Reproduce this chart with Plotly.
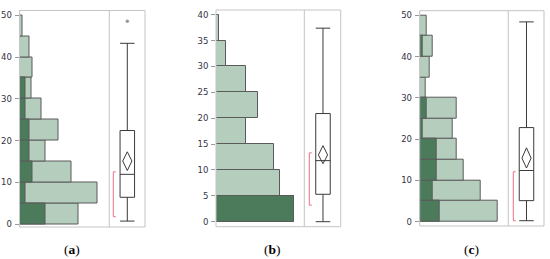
import plotly.graph_objects as go

W, H = 550, 259

# ---------------- data ----------------
bin_centers_a = [2.5, 7.5, 12.5, 17.5, 22.5, 27.5, 32.5, 37.5, 42.5, 47.5]
total_a = [58.7, 78.3, 52.3, 25.7, 39.0, 22.3, 12.3, 12.7, 9.7, 2.7]
dark_a = [25.7, 6.0, 13.3, 10.3, 10.3, 6.0, 6.0, None, None, None]

bin_centers_b = [2.5, 7.5, 12.5, 17.5, 22.5, 27.5, 32.5, 37.5]
total_b = [78.0, 64.3, 58.3, 29.7, 42.3, 29.7, 10.3, 3.0]
dark_b = [78.0, None, None, None, None, None, None, None]

bin_centers_c = [2.5, 7.5, 12.5, 17.5, 22.5, 27.5, 32.5, 37.5, 42.5, 47.5]
total_c = [77.7, 60.7, 44.3, 37.3, 33.3, 37.3, 6.3, 10.0, 13.0, 6.7]
dark_c = [20.3, 13.3, 17.0, 17.0, 3.0, 7.0, None, None, 3.0, None]

# box summaries: lower whisker, q1, median, q3, upper whisker
box_a = dict(low=0.7, q1=6.4, med=11.9, q3=22.4, high=43.3)
box_b = dict(low=0.0, q1=5.3, med=11.8, q3=20.9, high=37.4)
box_c = dict(low=0.24, q1=5.1, med=12.4, q3=22.8, high=48.4)
mean_a, ci_a = 15.1, (12.8, 17.3)
mean_b, ci_b = 12.9, (11.2, 14.7)
mean_c, ci_c = 15.4, (13.0, 17.9)
outliers_a = [48.6]
outliers_b = []
outliers_c = []
shortest_a = (1.75, 12.5)
shortest_b = (3.2, 13.3)
shortest_c = (0.24, 12.1)

tickvals_a = [0, 10, 20, 30, 40, 50]
tickvals_b = [0, 5, 10, 15, 20, 25, 30, 35, 40]
tickvals_c = [0, 10, 20, 30, 40, 50]
panel_labels = ["a", "b", "c"]

# ---------------- styling / layout ----------------
LIGHT = "#b4cdbc"
DARK = "#4b7b5a"
EDGE = "#5a5a5a"
FRAME = "#c4c4c4"
RED = "#ee7088"

panels = [
    dict(centers=bin_centers_a, total=total_a, dark=dark_a, box=box_a, mean=mean_a, ci=ci_a,
         out=outliers_a, short=shortest_a, ticks=tickvals_a,
         hx=(19.5, 109.3), bx=(109.3, 145.0), ypx=(10.5, 227.0), zero=224.0, scale=4.173,
         center=18.0, bracket=4.0),
    dict(centers=bin_centers_b, total=total_b, dark=dark_b, box=box_b, mean=mean_b, ci=ci_b,
         out=outliers_b, short=shortest_b, ticks=tickvals_b,
         hx=(216.0, 304.3), bx=(304.3, 340.7), ypx=(10.0, 226.7), zero=221.7, scale=5.175,
         center=18.7, bracket=5.0),
    dict(centers=bin_centers_c, total=total_c, dark=dark_c, box=box_c, mean=mean_c, ci=ci_c,
         out=outliers_c, short=shortest_c, ticks=tickvals_c,
         hx=(419.7, 508.3), bx=(508.3, 544.0), ypx=(10.7, 226.0), zero=221.7, scale=4.128,
         center=18.2, bracket=5.0),
]

fig = go.Figure()
layout = dict(
    width=W, height=H, margin=dict(l=0, r=0, t=0, b=0, pad=0, autoexpand=False),
    paper_bgcolor="white", plot_bgcolor="white", showlegend=False,
    barmode="overlay", bargap=0,
)
shapes = []
annotations = []

for i, p in enumerate(panels):
    hxn = 2 * i + 1
    bxn = 2 * i + 2
    yn = i + 1
    xh = "x" if hxn == 1 else f"x{hxn}"
    xb = f"x{bxn}"
    yy = "y" if yn == 1 else f"y{yn}"

    ytop_px, ybot_px = p["ypx"]
    yr = [(p["zero"] - ybot_px) / p["scale"], (p["zero"] - ytop_px) / p["scale"]]
    hw = p["hx"][1] - p["hx"][0]
    bw = p["bx"][1] - p["bx"][0]

    fig.add_trace(go.Bar(y=p["centers"], x=p["total"], orientation="h", width=5,
                         marker=dict(color=LIGHT, line=dict(color=EDGE, width=1)),
                         xaxis=xh, yaxis=yy, hoverinfo="skip"))
    fig.add_trace(go.Bar(y=p["centers"], x=p["dark"], orientation="h", width=5,
                         marker=dict(color=DARK, line=dict(color=EDGE, width=1)),
                         xaxis=xh, yaxis=yy, hoverinfo="skip"))

    b = p["box"]
    fig.add_trace(go.Box(x0=p["center"], q1=[b["q1"]], median=[b["med"]], q3=[b["q3"]],
                         lowerfence=[b["low"]], upperfence=[b["high"]],
                         width=14.5, whiskerwidth=1, fillcolor="rgba(0,0,0,0)",
                         line=dict(color="#3a3a3a", width=1), boxpoints=False,
                         xaxis=xb, yaxis=yy, hoverinfo="skip"))
    # mean diamond
    c = p["center"]
    lo, hi = p["ci"]
    m = p["mean"]
    fig.add_trace(go.Scatter(x=[c, c + 4.6, c, c - 4.6, c], y=[hi, m, lo, m, hi], mode="lines",
                             line=dict(color="#3a3a3a", width=1), xaxis=xb, yaxis=yy,
                             hoverinfo="skip"))
    if p["out"]:
        fig.add_trace(go.Scatter(x=[c] * len(p["out"]), y=p["out"], mode="markers",
                                 marker=dict(color="#9a9a9a", size=3.5), xaxis=xb, yaxis=yy,
                                 hoverinfo="skip"))
    s_lo, s_hi = p["short"]
    bx_ = p["bracket"]
    fig.add_trace(go.Scatter(x=[bx_ + 2.5, bx_, bx_, bx_ + 2.5], y=[s_lo, s_lo, s_hi, s_hi],
                             mode="lines", line=dict(color=RED, width=1), xaxis=xb, yaxis=yy,
                             hoverinfo="skip"))

    layout["xaxis" if hxn == 1 else f"xaxis{hxn}"] = dict(
        domain=[p["hx"][0] / W, p["hx"][1] / W], range=[0, hw], anchor=yy,
        showgrid=False, zeroline=False, showticklabels=False, ticks="", fixedrange=True,
        automargin=False)
    layout[f"xaxis{bxn}"] = dict(
        domain=[p["bx"][0] / W, p["bx"][1] / W], range=[0, bw], anchor=yy,
        showgrid=False, zeroline=False, showticklabels=False, ticks="", fixedrange=True,
        automargin=False)
    layout["yaxis" if yn == 1 else f"yaxis{yn}"] = dict(
        domain=[1 - ybot_px / H, 1 - ytop_px / H], range=yr, anchor=xh,
        showgrid=False, zeroline=False, tickvals=p["ticks"], ticks="outside", ticklen=4,
        tickcolor="#9a9a9a", tickwidth=1, ticklabelstandoff=1, automargin=False,
        tickfont=dict(family="DejaVu Sans", size=8.5, color="#333344"), fixedrange=True)

    # frame and divider
    shapes.append(dict(type="rect", xref="paper", yref="paper",
                       x0=p["hx"][0] / W, x1=p["bx"][1] / W,
                       y0=1 - ybot_px / H, y1=1 - ytop_px / H,
                       line=dict(color=FRAME, width=1), layer="above"))
    shapes.append(dict(type="line", xref="paper", yref="paper",
                       x0=p["bx"][0] / W, x1=p["bx"][0] / W,
                       y0=1 - ybot_px / H, y1=1 - ytop_px / H,
                       line=dict(color=FRAME, width=1), layer="above"))

label_x = [71.5, 272, 471.5]
for lx, lab in zip(label_x, panel_labels):
    annotations.append(dict(x=lx / W, y=1 - 249 / H, xref="paper", yref="paper",
                            xanchor="center", yanchor="middle",
                            text=f"(<b>{lab}</b>)", showarrow=False,
                            font=dict(family="Liberation Serif", size=13.5, color="black")))

layout["shapes"] = shapes
layout["annotations"] = annotations
fig.update_layout(**layout)
fig.write_html("out.html", config={"displayModeBar": False},
               post_script="document.body.style.margin='0';document.body.style.overflow='hidden';")
